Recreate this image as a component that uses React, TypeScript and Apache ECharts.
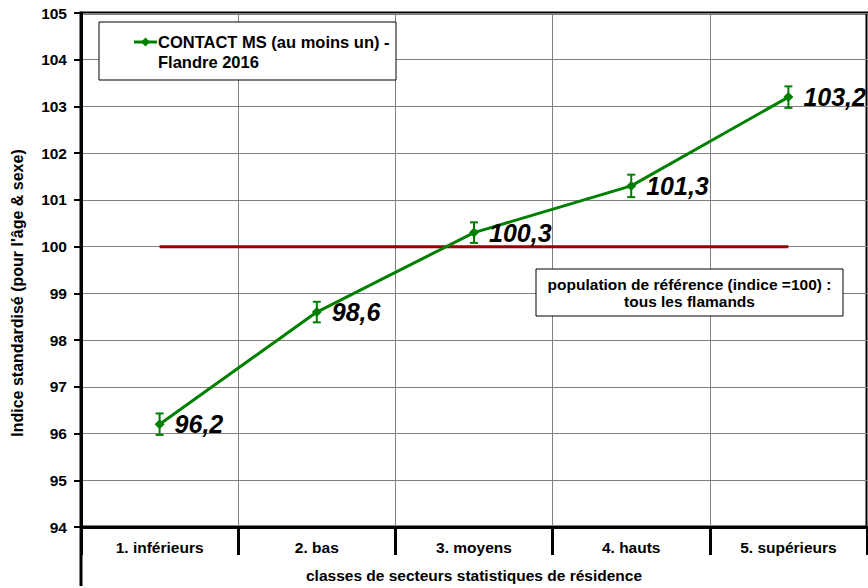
import React, { useEffect, useRef } from "react";
import * as echarts from "echarts";

const categories = ["1. inférieurs", "2. bas", "3. moyens", "4. hauts", "5. supérieurs"];
const values = [96.2, 98.6, 100.3, 101.3, 103.2];
const lowerBound = [95.97, 98.38, 100.08, 101.06, 102.97];
const upperBound = [96.43, 98.82, 100.52, 101.54, 103.43];
const referenceValues = [100, 100, 100, 100, 100];
const seriesName = "CONTACT MS (au moins un) - Flandre 2016";
const legendLines = ["CONTACT MS (au moins un) -", "Flandre 2016"];
const noteLines = ["population de référence (indice =100) :", "tous les flamands"];
const xTitle = "classes de secteurs statistiques de résidence";
const yTitle = "Indice standardisé (pour l'âge & sexe)";
const yMin = 94;
const yMax = 105;
const yInterval = 1;

const FONT = "'Liberation Sans', Arial, sans-serif";
const GREEN = "#008000";

export default function App() {
  const ref = useRef<HTMLDivElement>(null);
  useEffect(() => {
    const chart = echarts.init(ref.current!, null, { renderer: "svg" });
    chart.setOption({
      animation: false,
      backgroundColor: "#fff",
      textStyle: { fontFamily: FONT },
      grid: {
        left: 81,
        right: 1,
        top: 13,
        bottom: 59,
        show: true,
        borderColor: "#000",
        borderWidth: 3,
      },
      xAxis: {
        type: "category",
        data: categories,
        boundaryGap: true,
        axisLine: { lineStyle: { color: "#000", width: 3 } },
        axisTick: { show: true, interval: 0, length: 28, lineStyle: { color: "#000", width: 3 } },
        axisLabel: {
          interval: 0,
          margin: 12,
          color: "#000",
          fontWeight: "bold",
          fontSize: 15.5,
          fontFamily: FONT,
        },
        splitLine: { show: true, interval: 0, lineStyle: { color: "#808080", width: 1 } },
        name: xTitle,
        nameLocation: "middle",
        nameGap: 40,
        nameTextStyle: { color: "#000", fontWeight: "bold", fontSize: 15.5, fontFamily: FONT },
      },
      yAxis: {
        type: "value",
        min: yMin,
        max: yMax,
        interval: yInterval,
        axisLine: { show: true, lineStyle: { color: "#000", width: 3 } },
        axisTick: { show: true, length: 7, lineStyle: { color: "#000", width: 2 } },
        axisLabel: {
          margin: 14,
          color: "#000",
          fontWeight: "bold",
          fontSize: 15.5,
          fontFamily: FONT,
        },
        splitLine: { show: true, lineStyle: { color: "#808080", width: 1 } },
        name: yTitle,
        nameLocation: "middle",
        nameRotate: 90,
        nameGap: 56,
        nameTextStyle: {
          color: "#000",
          fontWeight: "bold",
          fontSize: 16,
          fontFamily: FONT,
          padding: [0, 46, 0, 0],
        },
      },
      series: [
        {
          name: "référence",
          type: "line",
          data: referenceValues,
          symbol: "none",
          lineStyle: { color: "#990000", width: 3 },
          itemStyle: { color: "#990000" },
          z: 2,
          silent: true,
        },
        {
          name: seriesName,
          type: "line",
          data: values,
          symbol: "diamond",
          symbolSize: 10,
          lineStyle: { color: GREEN, width: 3 },
          itemStyle: { color: GREEN },
          z: 4,
          label: {
            show: true,
            position: "right",
            distance: 10,
            formatter: (p: any) => String(p.value).replace(".", ","),
            color: "#000",
            fontSize: 25,
            fontWeight: "bold",
            fontStyle: "italic",
            fontFamily: FONT,
          },
        },
        {
          name: "intervalle",
          type: "custom",
          data: categories.map((c, i) => [i, lowerBound[i], upperBound[i]]),
          encode: { x: 0, y: [1, 2] },
          z: 5,
          renderItem: (params: any, api: any) => {
            const x = api.value(0);
            const lo = api.coord([x, api.value(1)]);
            const hi = api.coord([x, api.value(2)]);
            const hw = 4;
            const st = { stroke: GREEN, lineWidth: 2 };
            return {
              type: "group",
              children: [
                { type: "line", shape: { x1: lo[0], y1: lo[1], x2: hi[0], y2: hi[1] }, style: st },
                { type: "line", shape: { x1: lo[0] - hw, y1: lo[1], x2: lo[0] + hw, y2: lo[1] }, style: st },
                { type: "line", shape: { x1: hi[0] - hw, y1: hi[1], x2: hi[0] + hw, y2: hi[1] }, style: st },
              ],
            };
          },
        },
      ],
      graphic: [
        {
          type: "line",
          shape: { x1: 81, y1: 529, x2: 81, y2: 586 },
          style: { stroke: "#000", lineWidth: 3 },
          z: 10,
        },
        {
          type: "rect",
          shape: { x: 99, y: 22, width: 297, height: 58 },
          style: { fill: "#fff", stroke: "#000", lineWidth: 1 },
          z: 10,
        },
        {
          type: "line",
          shape: { x1: 134, y1: 42, x2: 157, y2: 42 },
          style: { stroke: GREEN, lineWidth: 3 },
          z: 11,
        },
        {
          type: "polygon",
          shape: { points: [[145.5, 37.5], [150, 42], [145.5, 46.5], [141, 42]] },
          style: { fill: GREEN },
          z: 11,
        },
        {
          type: "text",
          x: 158,
          y: 42,
          style: {
            text: legendLines[0],
            fill: "#000",
            font: `bold 16.5px ${FONT}`,
            verticalAlign: "middle",
          },
          z: 11,
        },
        {
          type: "text",
          x: 158,
          y: 62,
          style: {
            text: legendLines[1],
            fill: "#000",
            font: `bold 16.5px ${FONT}`,
            verticalAlign: "middle",
          },
          z: 11,
        },
        {
          type: "rect",
          shape: { x: 536, y: 269, width: 307, height: 47 },
          style: { fill: "#fff", stroke: "#000", lineWidth: 1 },
          z: 10,
        },
        {
          type: "text",
          x: 689.5,
          y: 284,
          style: {
            text: noteLines[0],
            fill: "#000",
            font: `bold 15.5px ${FONT}`,
            align: "center",
            verticalAlign: "middle",
          },
          z: 11,
        },
        {
          type: "text",
          x: 689.5,
          y: 301,
          style: {
            text: noteLines[1],
            fill: "#000",
            font: `bold 15.5px ${FONT}`,
            align: "center",
            verticalAlign: "middle",
          },
          z: 11,
        },
      ],
    });
    return () => chart.dispose();
  }, []);
  return (
    <div
      ref={ref}
      style={{ position: "fixed", left: 0, top: 0, width: 868, height: 588 }}
    />
  );
}
